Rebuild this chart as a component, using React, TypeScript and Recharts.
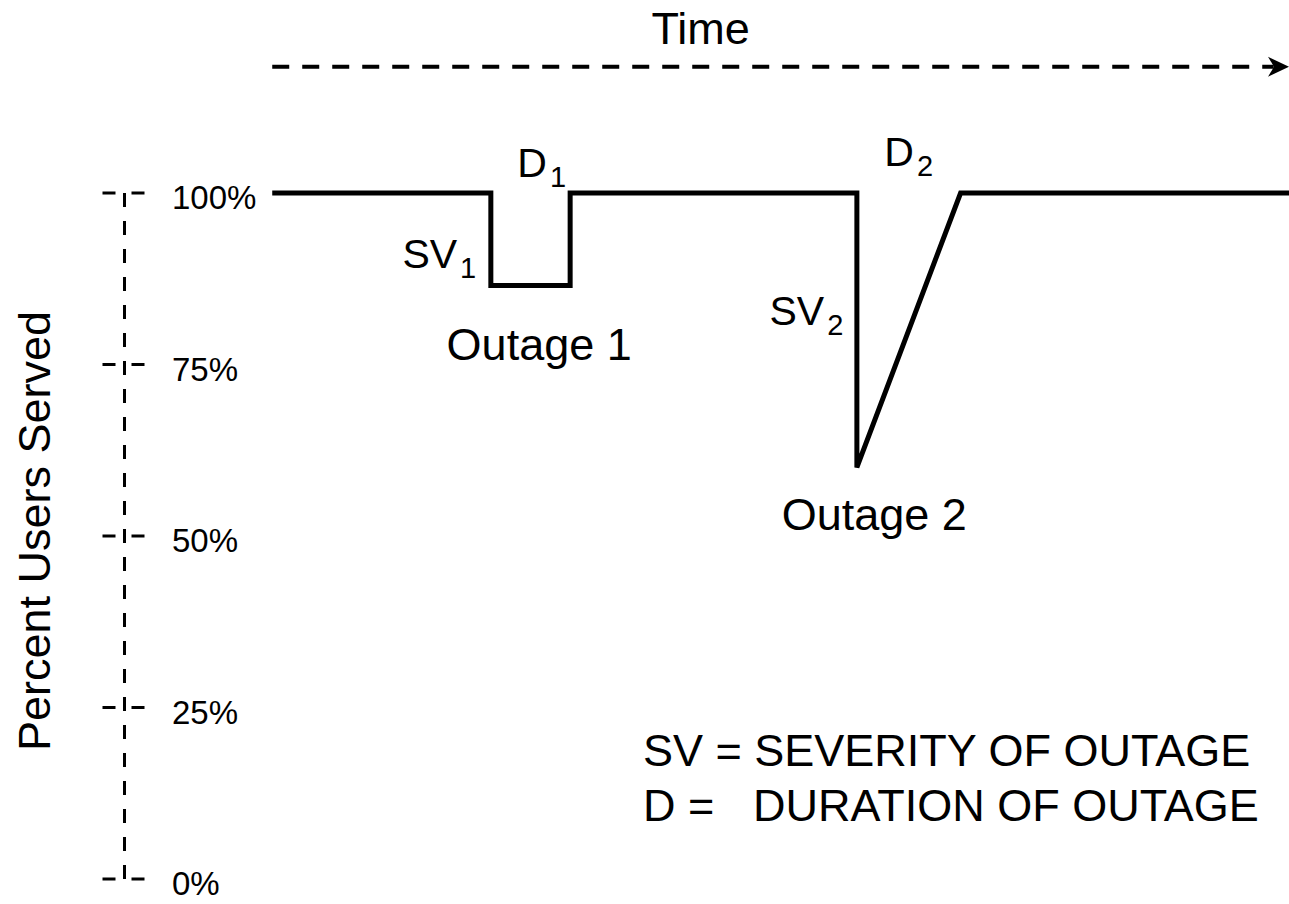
import React from 'react';
import { LineChart, Line, XAxis, YAxis, ReferenceDot, ReferenceLine } from 'recharts';

// time axis is arbitrary units: 0 = start of the trace, 100 = right edge
const TIME = [0, 21.5, 21.5, 29.3, 29.3, 57.5, 57.5, 67.7, 100];
const SERVED = [100, 100, 86.5, 86.5, 100, 100, 60, 100, 100];
const Y_TICKS = [0, 25, 50, 75, 100];

// annotations, placed in data coordinates (text start, baseline)
const NOTE_TEXT = ['D', 'SV', 'Outage 1', 'D', 'SV', 'Outage 2'];
const NOTE_SUB = ['1', '1', '', '2', '2', ''];
const NOTE_T = [24.1, 12.8, 17.15, 60.2, 48.9, 50.1];
const NOTE_V = [102.3, 89.1, 75.7, 103.9, 80.8, 50.9];

const TIME_ARROW_V = 118.4;

const FONT = '"Liberation Sans", Arial, Helvetica, sans-serif';

const data = TIME.map((t, i) => ({ t, served: SERVED[i] }));

const YTick = (props: any) => {
  const { x, y, payload } = props;
  return (
    <g>
      <line
        x1={x - 22}
        x2={x + 20}
        y1={y}
        y2={y}
        stroke="#000"
        strokeWidth={3}
        strokeDasharray="13 16"
      />
      <text x={x + 47.5} y={y + 16} fontSize={33} fontFamily={FONT} fill="#000">
        {payload.value}%
      </text>
    </g>
  );
};

const noteShape = (i: number) => (p: any) => {
  const sub = NOTE_SUB[i];
  return (
    <text x={p.cx} y={p.cy} fontSize={sub ? 41 : 45} fontFamily={FONT} fill="#000">
      {NOTE_TEXT[i]}
      {sub ? (
        <tspan dx={3} dy={10} fontSize={29}>
          {sub}
        </tspan>
      ) : null}
    </text>
  );
};

const arrowHead = (p: any) => {
  const { cx, cy } = p;
  return (
    <polygon
      points={`${cx},${cy} ${cx - 21},${cy - 10} ${cx - 15},${cy} ${cx - 21},${cy + 10}`}
      fill="#000"
    />
  );
};

const timeLabel = (p: any) => (
  <text x={p.cx} y={p.cy} fontSize={45} fontFamily={FONT} fill="#000">
    Time
  </text>
);

export default function App() {
  return (
    <div style={{ position: 'absolute', left: 0, top: 0, width: 1289, height: 904, background: '#fff' }}>
      <LineChart width={1289} height={904} data={data} margin={{ top: 193, right: 0, bottom: 25, left: 0 }}>
        <XAxis type="number" dataKey="t" domain={[-14.53, 100]} allowDataOverflow hide />
        <YAxis
          type="number"
          domain={[0, 100]}
          ticks={Y_TICKS}
          width={124.5}
          tickSize={0}
          tickMargin={0}
          tickLine={false}
          axisLine={{ stroke: '#000', strokeWidth: 3, strokeDasharray: '14 14' }}
          tick={<YTick />}
        />
        <Line
          type="linear"
          dataKey="served"
          stroke="#000"
          strokeWidth={5}
          strokeLinejoin="miter"
          dot={false}
          activeDot={false}
          isAnimationActive={false}
        />
        <ReferenceLine
          segment={[
            { x: 0, y: TIME_ARROW_V },
            { x: 98.5, y: TIME_ARROW_V },
          ]}
          ifOverflow="visible"
          stroke="#000"
          strokeWidth={4}
          strokeDasharray="17 13"
        />
        <ReferenceDot x={100} y={TIME_ARROW_V} ifOverflow="visible" shape={arrowHead} />
        <ReferenceDot x={37.3} y={121.7} ifOverflow="visible" shape={timeLabel} />
        {NOTE_TEXT.map((_, i) => (
          <ReferenceDot key={i} x={NOTE_T[i]} y={NOTE_V[i]} ifOverflow="visible" shape={noteShape(i)} />
        ))}
        <text
          x={50}
          y={531}
          transform="rotate(-90 50 531)"
          textAnchor="middle"
          fontSize={45}
          fontFamily={FONT}
          fill="#000"
        >
          Percent Users Served
        </text>
        <text x={643} y={766} fontSize={45} fontFamily={FONT} fill="#000">
          SV = SEVERITY OF OUTAGE
        </text>
        <text x={643} y={821} fontSize={45} fontFamily={FONT} fill="#000">
          D =
        </text>
        <text x={753} y={821} fontSize={45} fontFamily={FONT} fill="#000">
          DURATION OF OUTAGE
        </text>
      </LineChart>
    </div>
  );
}
